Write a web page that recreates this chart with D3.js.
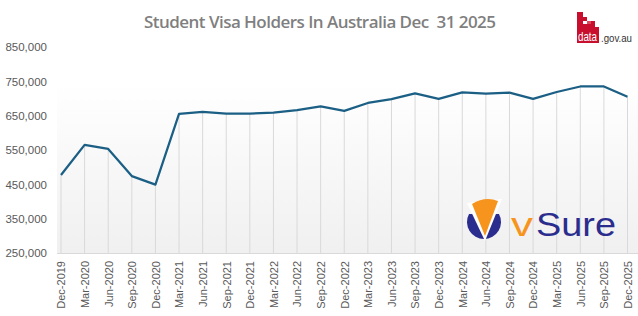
<!DOCTYPE html>
<html>
<head>
<meta charset="utf-8">
<script src="https://cdn.jsdelivr.net/npm/d3@7"></script>
<style>
	html, body { margin: 0; padding: 0; background: #fff; }
	svg { display: block; font-family: "Liberation Sans", Arial, sans-serif; }
</style>
</head>
<body>
<svg id="chart" width="638" height="316"></svg>
<script>
(function(){
	'use strict';

	var quarters = ['Dec-2019','Mar-2020','Jun-2020','Sep-2020','Dec-2020','Mar-2021','Jun-2021','Sep-2021',
		'Dec-2021','Mar-2022','Jun-2022','Sep-2022','Dec-2022','Mar-2023','Jun-2023','Sep-2023',
		'Dec-2023','Mar-2024','Jun-2024','Sep-2024','Dec-2024','Mar-2025','Jun-2025','Sep-2025','Dec-2025'];

	var holders = [477000, 565000, 553000, 474000, 449000, 655000, 661000, 656000,
		656000, 659000, 666000, 677000, 664000, 687000, 698000, 715000,
		699000, 718000, 714000, 717000, 699000, 719000, 735000, 735000, 705000];

	var yTicks = [250000, 350000, 450000, 550000, 650000, 750000, 850000];

	var title = 'Student Visa Holders In Australia Dec  31 2025';

	var svg = d3.select('#chart');

	var x = d3.scalePoint().domain(quarters).range([61, 627.5]);
	var y = d3.scaleLinear().domain([250000, 850000]).range([253, 47]);

	// plot background
	var defs = svg.append('defs');
	var grad = defs.append('linearGradient')
		.attr('id', 'bg')
		.attr('x1', 0).attr('y1', 0).attr('x2', 0).attr('y2', 1);
	grad.append('stop').attr('offset', '0%').attr('stop-color', '#ffffff');
	grad.append('stop').attr('offset', '100%').attr('stop-color', '#f0f0f0');

	svg.append('rect')
		.attr('x', 57).attr('y', 83)
		.attr('width', 581).attr('height', 170)
		.attr('fill', 'url(#bg)');

	// title
	svg.append('text')
		.attr('x', 320).attr('y', 27.5)
		.attr('text-anchor', 'middle')
		.attr('fill', '#7f7f7f')
		.style('font-family', '"Open Sans", sans-serif')
		.style('font-weight', 600)
		.style('font-size', '17px')
		.style('white-space', 'pre')
		.attr('textLength', 352)
		.text(title);

	// drop lines
	svg.append('g').selectAll('line')
		.data(holders)
		.enter()
		.append('line')
			.attr('x1', (d, i) => x(quarters[i]))
			.attr('x2', (d, i) => x(quarters[i]))
			.attr('y1', (d) => y(d))
			.attr('y2', y(250000))
			.attr('stroke', '#d9d9d9')
			.attr('stroke-width', 1);

	// y axis
	var yAxis = svg.append('g')
		.attr('transform', 'translate(47,0)')
		.call(d3.axisLeft(y).tickValues(yTicks).tickSize(0).tickPadding(0).tickFormat(d3.format(',')));
	yAxis.select('.domain').remove();
	yAxis.selectAll('text')
		.attr('fill', '#595959')
		.style('font-size', '11.5px')
		.style('font-family', '"Liberation Sans", Arial, sans-serif');

	// x axis
	var xAxis = svg.append('g')
		.attr('transform', 'translate(0,253)')
		.call(d3.axisBottom(x).tickSize(0));
	xAxis.select('.domain')
		.attr('d', 'M57,0.5H638')
		.attr('stroke', '#d9d9d9');
	xAxis.selectAll('text')
		.attr('fill', '#595959')
		.style('font-size', '11px')
		.style('font-family', '"Liberation Sans", Arial, sans-serif')
		.attr('transform', 'rotate(-90)')
		.attr('text-anchor', 'end')
		.attr('x', -8)
		.attr('y', 0)
		.attr('dy', '0.35em');

	// line
	var line = d3.line()
		.x((d, i) => x(quarters[i]))
		.y((d) => y(d));

	svg.append('path')
		.datum(holders)
		.attr('d', line)
		.attr('fill', 'none')
		.attr('stroke', '#1b5f85')
		.attr('stroke-width', 2.25)
		.attr('stroke-linejoin', 'round');

	// data.gov.au logo
	var logo = svg.append('g');
	logo.append('rect').attr('x', 577).attr('y', 27).attr('width', 22).attr('height', 16).attr('fill', '#c8102e');
	logo.append('rect').attr('x', 577).attr('y', 12).attr('width', 6).attr('height', 16).attr('fill', '#c8102e');
	logo.append('rect').attr('x', 583).attr('y', 17).attr('width', 4).attr('height', 4).attr('fill', '#c8102e');
	logo.append('rect').attr('x', 587).attr('y', 21).attr('width', 4).attr('height', 3).attr('fill', '#d94a5c');
	logo.append('rect').attr('x', 591).attr('y', 21).attr('width', 4).attr('height', 6).attr('fill', '#c8102e');
	logo.append('rect').attr('x', 583).attr('y', 24).attr('width', 8).attr('height', 3).attr('fill', '#c8102e');
	logo.append('text')
		.attr('x', 578).attr('y', 41)
		.attr('fill', '#ffffff')
		.style('font-size', '13px')
		.style('font-family', '"Liberation Sans Narrow", "Liberation Sans", sans-serif')
		.attr('textLength', 19)
		.attr('lengthAdjust', 'spacingAndGlyphs')
		.text('data');
	logo.append('text')
		.attr('x', 601).attr('y', 42)
		.attr('fill', '#333333')
		.style('font-size', '11px')
		.style('font-family', '"Liberation Sans", sans-serif')
		.attr('textLength', 31)
		.attr('lengthAdjust', 'spacingAndGlyphs')
		.text('.gov.au');

	// vSure logo
	var vs = svg.append('g');
	vs.append('path')
		.attr('d', 'M469,214 A17,17 0 1 0 499,214 Z')
		.attr('fill', '#2b2d8e');
	vs.append('path')
		.attr('d', 'M485,241 L467,203 L502,199 Z')
		.attr('fill', '#ffffff');
	vs.append('path')
		.attr('d', 'M485,236 L472,204 Q485,196 498,201 Z')
		.attr('fill', '#f7941d');
	vs.append('text')
		.attr('x', 511).attr('y', 236)
		.attr('fill', '#f7941d')
		.style('font-size', '33px')
		.style('font-family', '"Liberation Sans", sans-serif')
		.attr('textLength', 22)
		.attr('lengthAdjust', 'spacingAndGlyphs')
		.text('v');
	vs.append('text')
		.attr('x', 536).attr('y', 236)
		.attr('fill', '#2b2d8e')
		.style('font-size', '33px')
		.style('font-family', '"Liberation Sans", sans-serif')
		.attr('textLength', 80)
		.attr('lengthAdjust', 'spacingAndGlyphs')
		.text('Sure');
})();
</script>
</body>
</html>
